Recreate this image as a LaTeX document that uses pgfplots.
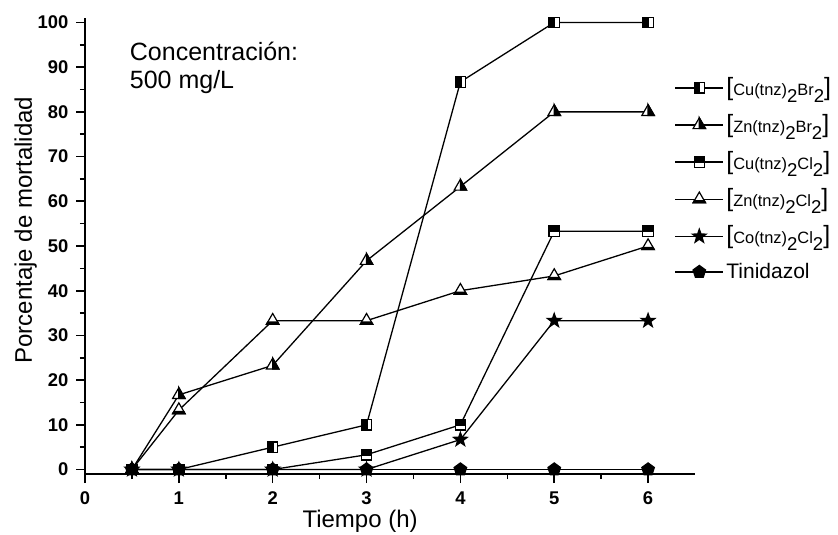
\documentclass[border=0pt]{standalone}
\usepackage{pgfplots}
\pgfplotsset{compat=1.18}
\usepackage{fontspec}
\setmainfont{Liberation Sans}
\usetikzlibrary{plotmarks}

\pgfdeclareplotmark{sqleft}{%
  \pgfsetfillcolor{white}%
  \pgfpathrectangle{\pgfqpoint{-\pgfplotmarksize}{-\pgfplotmarksize}}{\pgfqpoint{2\pgfplotmarksize}{2\pgfplotmarksize}}%
  \pgfusepathqfillstroke
  \pgfsetfillcolor{black}%
  \pgfpathrectangle{\pgfqpoint{-\pgfplotmarksize}{-\pgfplotmarksize}}{\pgfqpoint{1.1\pgfplotmarksize}{2\pgfplotmarksize}}%
  \pgfusepathqfillstroke
}
\pgfdeclareplotmark{sqtop}{%
  \pgfsetfillcolor{white}%
  \pgfpathrectangle{\pgfqpoint{-\pgfplotmarksize}{-\pgfplotmarksize}}{\pgfqpoint{2\pgfplotmarksize}{2\pgfplotmarksize}}%
  \pgfusepathqfillstroke
  \pgfsetfillcolor{black}%
  \pgfpathrectangle{\pgfqpoint{-\pgfplotmarksize}{-0.1\pgfplotmarksize}}{\pgfqpoint{2\pgfplotmarksize}{1.1\pgfplotmarksize}}%
  \pgfusepathqfillstroke
}
\pgfdeclareplotmark{triright}{%
  \pgfsetfillcolor{white}%
  \pgfpathmoveto{\pgfqpoint{0pt}{\pgfplotmarksize}}%
  \pgfpathlineto{\pgfqpoint{-0.866\pgfplotmarksize}{-0.5\pgfplotmarksize}}%
  \pgfpathlineto{\pgfqpoint{0.866\pgfplotmarksize}{-0.5\pgfplotmarksize}}%
  \pgfpathclose
  \pgfusepathqfillstroke
  \pgfsetfillcolor{black}%
  \pgfpathmoveto{\pgfqpoint{0pt}{\pgfplotmarksize}}%
  \pgfpathlineto{\pgfqpoint{0pt}{-0.5\pgfplotmarksize}}%
  \pgfpathlineto{\pgfqpoint{0.866\pgfplotmarksize}{-0.5\pgfplotmarksize}}%
  \pgfpathclose
  \pgfusepathqfillstroke
}
\pgfdeclareplotmark{tribottom}{%
  \pgfsetfillcolor{white}%
  \pgfpathmoveto{\pgfqpoint{0pt}{\pgfplotmarksize}}%
  \pgfpathlineto{\pgfqpoint{-0.866\pgfplotmarksize}{-0.5\pgfplotmarksize}}%
  \pgfpathlineto{\pgfqpoint{0.866\pgfplotmarksize}{-0.5\pgfplotmarksize}}%
  \pgfpathclose
  \pgfusepathqfillstroke
  \pgfsetfillcolor{black}%
  \pgfpathmoveto{\pgfqpoint{-0.866\pgfplotmarksize}{-0.5\pgfplotmarksize}}%
  \pgfpathlineto{\pgfqpoint{0.866\pgfplotmarksize}{-0.5\pgfplotmarksize}}%
  \pgfpathlineto{\pgfqpoint{0.693\pgfplotmarksize}{-0.2\pgfplotmarksize}}%
  \pgfpathlineto{\pgfqpoint{-0.693\pgfplotmarksize}{-0.2\pgfplotmarksize}}%
  \pgfpathclose
  \pgfusepathqfillstroke
}
\pgfdeclareplotmark{fstar}{%
  \pgfsetfillcolor{black}%
  \pgfpathmoveto{\pgfqpoint{0pt}{\pgfplotmarksize}}%
  \pgfpathlineto{\pgfqpoint{-0.235\pgfplotmarksize}{0.324\pgfplotmarksize}}%
  \pgfpathlineto{\pgfqpoint{-0.951\pgfplotmarksize}{0.309\pgfplotmarksize}}%
  \pgfpathlineto{\pgfqpoint{-0.380\pgfplotmarksize}{-0.124\pgfplotmarksize}}%
  \pgfpathlineto{\pgfqpoint{-0.588\pgfplotmarksize}{-0.809\pgfplotmarksize}}%
  \pgfpathlineto{\pgfqpoint{0pt}{-0.4\pgfplotmarksize}}%
  \pgfpathlineto{\pgfqpoint{0.588\pgfplotmarksize}{-0.809\pgfplotmarksize}}%
  \pgfpathlineto{\pgfqpoint{0.380\pgfplotmarksize}{-0.124\pgfplotmarksize}}%
  \pgfpathlineto{\pgfqpoint{0.951\pgfplotmarksize}{0.309\pgfplotmarksize}}%
  \pgfpathlineto{\pgfqpoint{0.235\pgfplotmarksize}{0.324\pgfplotmarksize}}%
  \pgfpathclose
  \pgfusepathqfillstroke
}

\newcommand{\sub}{\raisebox{-3.4pt}{\fontsize{9.3}{10}\selectfont 2}}
\newcommand{\cpd}[2]{{\fontsize{12.5}{13}\selectfont[}{\fontsize{8.2}{9}\selectfont #1\sub #2\sub}{\fontsize{12.5}{13}\selectfont]}}

\begin{document}
\begin{tikzpicture}
\useasboundingbox (-42.5pt,-30pt) rectangle (376.5pt,237pt);
\begin{axis}[
  at={(0,0)}, anchor=south west,
  scale only axis, width=305pt, height=228pt,
  xmin=0, xmax=6.5, ymin=-1, ymax=101,
  axis lines=left,
  axis line style={-, line width=0.9pt},
  xtick={0,1,2,3,4,5,6}, minor x tick num=1,
  ytick={0,10,...,100}, minor y tick num=1,
  tick align=outside,
  major tick length=4.5pt, minor tick length=2.6pt,
  every tick/.style={black, line width=0.8pt},
  /pgf/number format/assume math mode=true,
  tick label style={font=\bfseries\fontsize{9.2}{10}\selectfont},
  xticklabel style={yshift=-1pt},
  yticklabel style={xshift=-0.3pt},
  xlabel={Tiempo (h)},
  ylabel={Porcentaje de mortalidad},
  label style={font=\fontsize{12}{14}\selectfont},
  xlabel style={at={(axis description cs:0.451,-0.118)}, anchor=base},
  ylabel style={at={(axis description cs:-0.087,0.535)}, anchor=base, rotate=0},
  legend cell align=left,
  legend style={at={(axis description cs:0.966,0.876)}, anchor=north west,
    draw=none, fill=none, inner sep=0pt, row sep=5.6pt,
    nodes={inner sep=1.2pt, font=\fontsize{10.5}{12}\selectfont}},
  legend image code/.code={%
    \draw[#1, mark repeat=2, mark phase=2] plot coordinates {(0pt,0pt) (12pt,0pt) (24pt,0pt)};},
  every axis plot/.append style={black, line width=0.65pt, mark options={solid, line width=0.6pt}},
  clip=false,
]
\addplot[mark=sqleft, mark size=2.6pt] coordinates {(0.5,0) (1,0) (2,5) (3,10) (4,86.7) (5,100) (6,100)};
\addlegendentry{\cpd{Cu(tnz)}{Br}}
\addplot[mark=triright, mark size=3.6pt] coordinates {(0.5,0) (1,16.7) (2,23.3) (3,46.7) (4,63.3) (5,80) (6,80)};
\addlegendentry{\cpd{Zn(tnz)}{Br}}
\addplot[mark=sqtop, mark size=2.6pt] coordinates {(0.5,0) (1,0) (2,0) (3,3.3) (4,10) (5,53.3) (6,53.3)};
\addlegendentry{\cpd{Cu(tnz)}{Cl}}
\addplot[mark=tribottom, mark size=3.6pt] coordinates {(0.5,0) (1,13.3) (2,33.3) (3,33.3) (4,40) (5,43.3) (6,50)};
\addlegendentry{\cpd{Zn(tnz)}{Cl}}
\addplot[mark=fstar, mark size=3.6pt] coordinates {(0.5,0) (1,0) (2,0) (3,0) (4,6.7) (5,33.3) (6,33.3)};
\addlegendentry{\cpd{Co(tnz)}{Cl}}
\addplot[mark=pentagon*, mark size=3.3pt] coordinates {(0.5,0) (1,0) (2,0) (3,0) (4,0) (5,0) (6,0)};
\addlegendentry{Tinidazol}
\node[anchor=north west, inner sep=0pt, align=left, font=\fontsize{12.5}{14}\selectfont]
  at (rel axis cs:0.073,0.948) {Concentración:\\500 mg/L};
\end{axis}
\end{tikzpicture}
\end{document}
